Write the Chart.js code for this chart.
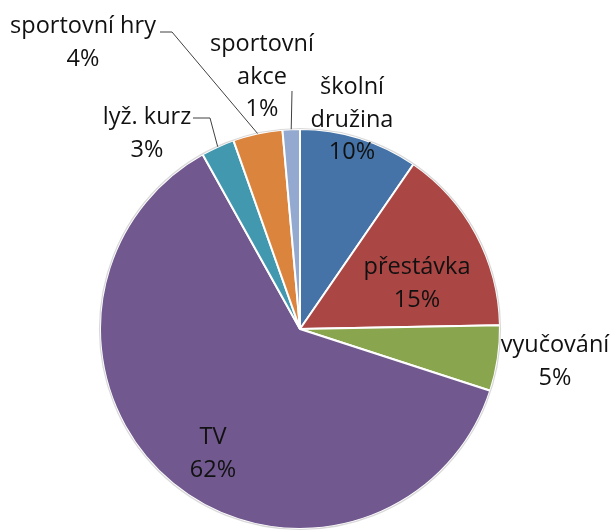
<!DOCTYPE html>
<html><head><meta charset="utf-8">
<script src="https://cdn.jsdelivr.net/npm/chart.js@4/dist/chart.umd.min.js"></script>
<style>html,body{margin:0;padding:0;background:#fff}#wrap{width:613px;height:531px;position:relative}</style>
</head><body><div id="wrap"><canvas id="c" width="613" height="531"></canvas></div>
<script>
const categories = ["školní družina","přestávka","vyučování","TV","lyž. kurz","sportovní hry","sportovní akce"];
const values = [9.6, 15.1, 5.3, 61.9, 2.7, 4.0, 1.4];
const colors = ["#4573A7","#AA4643","#89A54E","#71588F","#4198AF","#DB843D","#93A9CF"];
// label text lines (label name split as in the chart)
const labelLines = [["školní","družina"],["přestávka"],["vyučování"],["TV"],["lyž. kurz"],["sportovní hry"],["sportovní","akce"]];
// label block centre, in units of radius relative to pie centre
const labelPos = [[0.26,-1.045],[0.585,-0.225],[1.275,0.165],[-0.435,0.625],[-0.765,-0.975],[-1.085,-1.43],[-0.19,-1.26]];
// leader line start (units of radius), null = none
const leaderStart = [null,null,null,null,[[-0.535,-1.055],[-0.45,-1.055]],[[-0.7,-1.485],[-0.64,-1.485]],[[-0.04,-1.19]]];

const labelPlugin = {
  id:'labels',
  afterDatasetsDraw(chart){
    const ctx = chart.ctx;
    const meta = chart.getDatasetMeta(0);
    const total = values.reduce((a,b)=>a+b,0);
    ctx.save();
    const a0 = meta.data[0];
    ctx.beginPath();
    ctx.arc(a0.x,a0.y,a0.outerRadius+0.5,0,Math.PI*2);
    ctx.strokeStyle='#d9d9d9';ctx.lineWidth=1.2;ctx.stroke();
    meta.data.forEach((arc,i)=>{
      const cx=arc.x, cy=arc.y, r=arc.outerRadius;
      const mid=(arc.startAngle+arc.endAngle)/2;
      if(leaderStart[i]){
        ctx.beginPath();
        const pts=leaderStart[i];
        ctx.moveTo(cx+pts[0][0]*r, cy+pts[0][1]*r);
        for(let k=1;k<pts.length;k++) ctx.lineTo(cx+pts[k][0]*r, cy+pts[k][1]*r);
        ctx.lineTo(cx+Math.cos(mid)*r, cy+Math.sin(mid)*r);
        ctx.strokeStyle='#404040';ctx.lineWidth=1;ctx.stroke();
      }
      const lines = labelLines[i].concat([Math.round(values[i]/total*100)+'%']);
      const lx=cx+labelPos[i][0]*r, ly=cy+labelPos[i][1]*r;
      const lh=32.5;
      ctx.font='23.5px "Open Sans"';
      ctx.fillStyle='#111';
      ctx.textAlign='center';ctx.textBaseline='middle';
      lines.forEach((t,k)=>{
        ctx.fillText(t, lx, ly+(k-(lines.length-1)/2)*lh);
      });
    });
    ctx.restore();
  }
};

new Chart(document.getElementById('c'),{
  type:'pie',
  data:{labels:categories,datasets:[{data:values,backgroundColor:colors,borderColor:'#ffffff',borderWidth:2}]},
  options:{
    responsive:false,animation:false,
    layout:{padding:{left:99,right:112,top:128,bottom:1}},
    plugins:{legend:{display:false},tooltip:{enabled:false}}
  },
  plugins:[labelPlugin]
});
</script></body></html>
